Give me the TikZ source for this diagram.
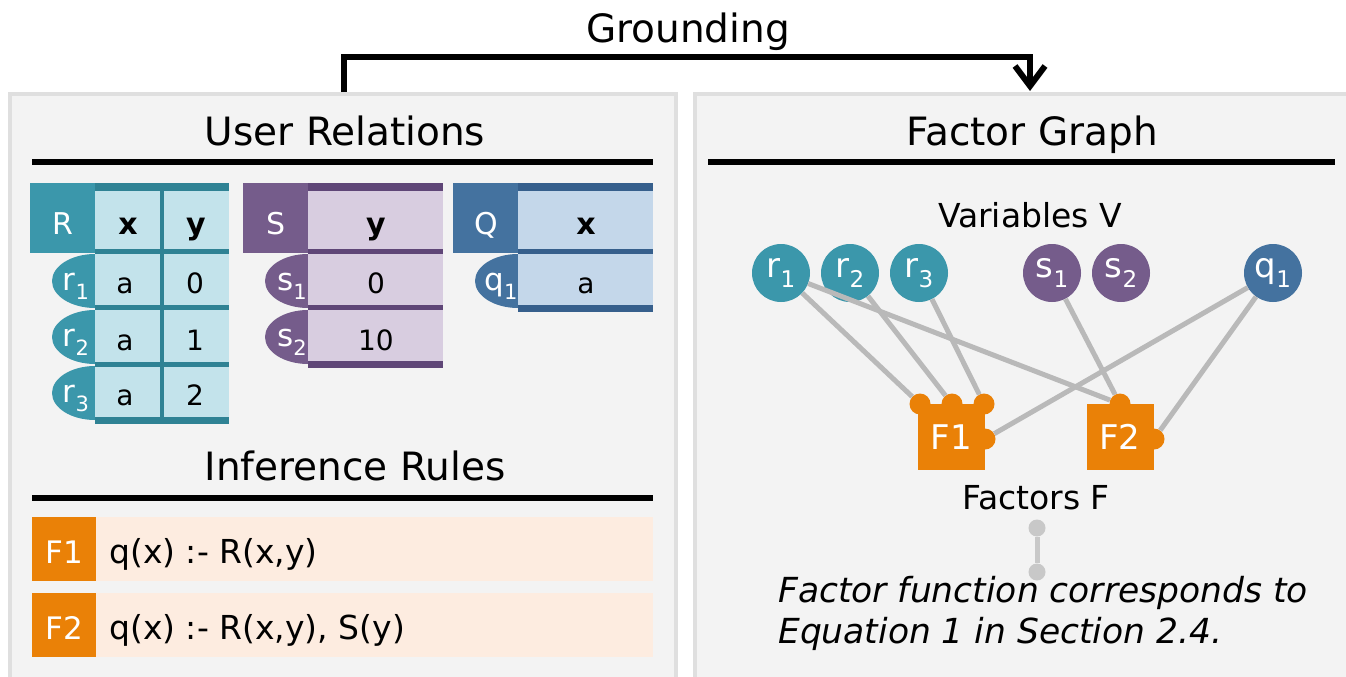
\documentclass[tikz,border=0pt]{standalone}
\usepackage{fontspec}
\setmainfont{DejaVu Sans}
\usetikzlibrary{arrows.meta,shapes.geometric}
\definecolor{panelfill}{HTML}{F3F3F3}
\definecolor{panelline}{HTML}{DFDFDF}
\definecolor{tealhd}{HTML}{3B97AB}
\definecolor{tealln}{HTML}{2F8294}
\definecolor{teallt}{HTML}{C3E3EB}
\definecolor{purphd}{HTML}{755C8B}
\definecolor{purpln}{HTML}{5F4677}
\definecolor{purplt}{HTML}{D8CDE0}
\definecolor{bluehd}{HTML}{44729F}
\definecolor{blueln}{HTML}{365F8C}
\definecolor{bluelt}{HTML}{C4D7EA}
\definecolor{orng}{HTML}{EA8107}
\definecolor{peach}{HTML}{FDECE0}
\definecolor{edgegray}{HTML}{B9B9B9}
\definecolor{dotgray}{HTML}{C8C8C8}
\newcommand\fs[1]{\fontsize{#1}{#1}\selectfont}
\newcommand\subx[2]{\raisebox{-0.3em}{\fontsize{#1}{#1}\selectfont #2}}
\begin{document}
\begin{tikzpicture}[x=1pt,y=-1pt,
  panel/.style={draw=panelline,line width=4pt,fill=panelfill},
  title/.style={font=\fs{39},anchor=base,inner sep=0pt},
  subtitle/.style={font=\fs{33},anchor=base,inner sep=0pt},
  hrule/.style={line width=6pt,black},
  garrow/.style={line width=6pt,black,-{Straight Barb[length=20pt,width=30pt,line width=6pt]}},
  hdtxt/.style={font=\fs{30},text=white,anchor=base,inner sep=0pt},
  coltxt/.style={font=\fs{30}\bfseries,anchor=base,inner sep=0pt},
  celltxt/.style={font=\fs{28},anchor=base,inner sep=0pt},
  rowlab/.style={ellipse,minimum width=86pt,minimum height=54pt,inner sep=0pt},
  rowtxt/.style={font=\fs{31},text=white,anchor=base,inner sep=0pt},
  ruletag/.style={fill=orng,minimum width=64pt,minimum height=64pt,inner sep=0pt,anchor=north west},
  rulerow/.style={fill=peach,minimum width=621pt,minimum height=64pt,inner sep=0pt,anchor=north west},
  tagtxt/.style={font=\fs{31},text=white,anchor=base,inner sep=0pt},
  ruletxt/.style={font=\fs{33},anchor=base west,inner sep=0pt},
  var/.style={circle,minimum size=58pt,inner sep=0pt,text=white,font=\fs{34}},
  fsq/.style={fill=orng,minimum width=67pt,minimum height=66pt,inner sep=0pt,text=white,font=\fs{34}},
  knob/.style={circle,fill=orng,minimum size=21pt,inner sep=0pt},
  edge/.style={line width=5pt,edgegray},
  dot/.style={circle,fill=dotgray,minimum size=17pt,inner sep=0pt},
  dumb/.style={line width=5pt,dotgray}]
\useasboundingbox[fill=white] (0,0) rectangle (1346,677);
% panels
\draw[panel] (10,94) rectangle (676,700);
\draw[panel] (695,94) rectangle (1360,700);
% grounding arrow
\coordinate (gs) at (344,92);
\coordinate (ge) at (1030,91);
\coordinate (gm) at (344,57);
\node[title] (ground) at (688,43) {Grounding};
\draw[garrow] (gs) -- (gm) -| (ge);
% titles
\node[title] (ur) at (345,145) {User Relations};
\draw[hrule] (32,162) -- (653,162);
\node[title] (fg) at (1032,145) {Factor Graph};
\draw[hrule] (708,162) -- (1335,162);
\node[title] (ir) at (355,480) {Inference Rules};
\draw[hrule] (32,498) -- (653,498);

% ---------- R table
\node[rowlab,fill=tealhd] (er1) at (95,281) {};
\node[rowlab,fill=tealhd] (er2) at (95,337) {};
\node[rowlab,fill=tealhd] (er3) at (95,393) {};
\fill[tealhd] (30,183) rectangle (95,253);
\fill[teallt] (95,183) rectangle (229,424);
\fill[tealln] (95,183) rectangle (229,191);
\fill[tealln] (95,249) rectangle (229,254);
\fill[tealln] (95,305) rectangle (229,310);
\fill[tealln] (95,362) rectangle (229,367);
\fill[tealln] (95,417) rectangle (229,424);
\fill[tealln] (159.5,191) rectangle (164,417);
\node[hdtxt] (tR) at (63,234) {R};
\node[coltxt] (tRx) at (128,234) {x};
\node[coltxt] (tRy) at (196,234) {y};
\node[rowtxt] (lr1) at (76,290) {r\subx{21}{1}};
\node[rowtxt] (lr2) at (76,346) {r\subx{21}{2}};
\node[rowtxt] (lr3) at (76,402) {r\subx{21}{3}};
\node[celltxt] (ra1) at (125,293) {a};
\node[celltxt] (rb1) at (195,293) {0};
\node[celltxt] (ra2) at (125,350) {a};
\node[celltxt] (rb2) at (195,350) {1};
\node[celltxt] (ra3) at (125,405) {a};
\node[celltxt] (rb3) at (195,405) {2};

% ---------- S table
\node[rowlab,fill=purphd] (es1) at (308,281) {};
\node[rowlab,fill=purphd] (es2) at (308,337) {};
\fill[purphd] (243,183) rectangle (308,253);
\fill[purplt] (308,183) rectangle (443,368);
\fill[purpln] (308,183) rectangle (443,191);
\fill[purpln] (308,249) rectangle (443,254);
\fill[purpln] (308,305) rectangle (443,310);
\fill[purpln] (308,361) rectangle (443,368);
\node[hdtxt] (tS) at (276,234) {S};
\node[coltxt] (tSy) at (376,234) {y};
\node[rowtxt] (ls1) at (292,290) {s\subx{21}{1}};
\node[rowtxt] (ls2) at (292,346) {s\subx{21}{2}};
\node[celltxt] (sa1) at (376,293) {0};
\node[celltxt] (sa2) at (376,350) {10};

% ---------- Q table
\node[rowlab,fill=bluehd] (eq1) at (518,281) {};
\fill[bluehd] (453,183) rectangle (518,253);
\fill[bluelt] (518,183) rectangle (653,312);
\fill[blueln] (518,183) rectangle (653,191);
\fill[blueln] (518,249) rectangle (653,254);
\fill[blueln] (518,305) rectangle (653,312);
\node[hdtxt] (tQ) at (486,234) {Q};
\node[coltxt] (tQx) at (586,234) {x};
\node[rowtxt] (lq1) at (501,290) {q\subx{21}{1}};
\node[celltxt] (qa1) at (586,293) {a};

% ---------- rules
\node[rulerow] (row1) at (32,517) {};
\node[ruletag] (tag1) at (32,517) {};
\node[tagtxt] (tag1t) at (64,563) {F1};
\node[ruletxt] (rule1) at (109,563) {q(x) :- R(x,y)};
\node[rulerow] (row2) at (32,593) {};
\node[ruletag] (tag2) at (32,593) {};
\node[tagtxt] (tag2t) at (64,639) {F2};
\node[ruletxt] (rule2) at (109,639) {q(x) :- R(x,y), S(y)};

% ---------- factor graph
\node[subtitle] (vv) at (1030,227) {Variables V};
\node[var,fill=tealhd] (r1) at (781,273) {r\subx{23}{1}};
\node[var,fill=tealhd] (r2) at (850,273) {r\subx{23}{2}};
\node[var,fill=tealhd] (r3) at (919,273) {r\subx{23}{3}};
\node[var,fill=purphd] (s1) at (1052,273) {s\subx{23}{1}};
\node[var,fill=purphd] (s2) at (1121,273) {s\subx{23}{2}};
\node[var,fill=bluehd] (q1) at (1273,273) {q\subx{23}{1}};

\node[knob] (k1a) at (920,404) {};
\node[knob] (k1b) at (952,404) {};
\node[knob] (k1c) at (984,404) {};
\node[knob] (k1r) at (985,439) {};
\node[knob] (k2t) at (1120,404) {};
\node[knob] (k2r) at (1154,439) {};
\node[fsq] (F1) at (951.5,437) {F1};
\node[fsq] (F2) at (1120,437) {F2};

\draw[edge] (r1) -- (k1a);
\draw[edge] (r1) -- (k2t);
\draw[edge] (r2) -- (k1b);
\draw[edge] (r3) -- (k1c);
\draw[edge] (s1) -- (k2t);
\draw[edge] (q1) -- (k1r);
\draw[edge] (q1) -- (k2r);

\node[subtitle] (ff) at (1036,509) {Factors F};
\node[dot] (d1) at (1037,528) {};
\node[dot] (d2) at (1037,572) {};
\draw[dumb] (d1) -- (d2);
\node[font=\fs{34.5}\itshape,anchor=base west,inner sep=0pt] (note1) at (778,602) {Factor function corresponds to};
\node[font=\fs{34.5}\itshape,anchor=base west,inner sep=0pt] (note2) at (778,643) {Equation 1 in Section 2.4.};
\end{tikzpicture}
\end{document}
